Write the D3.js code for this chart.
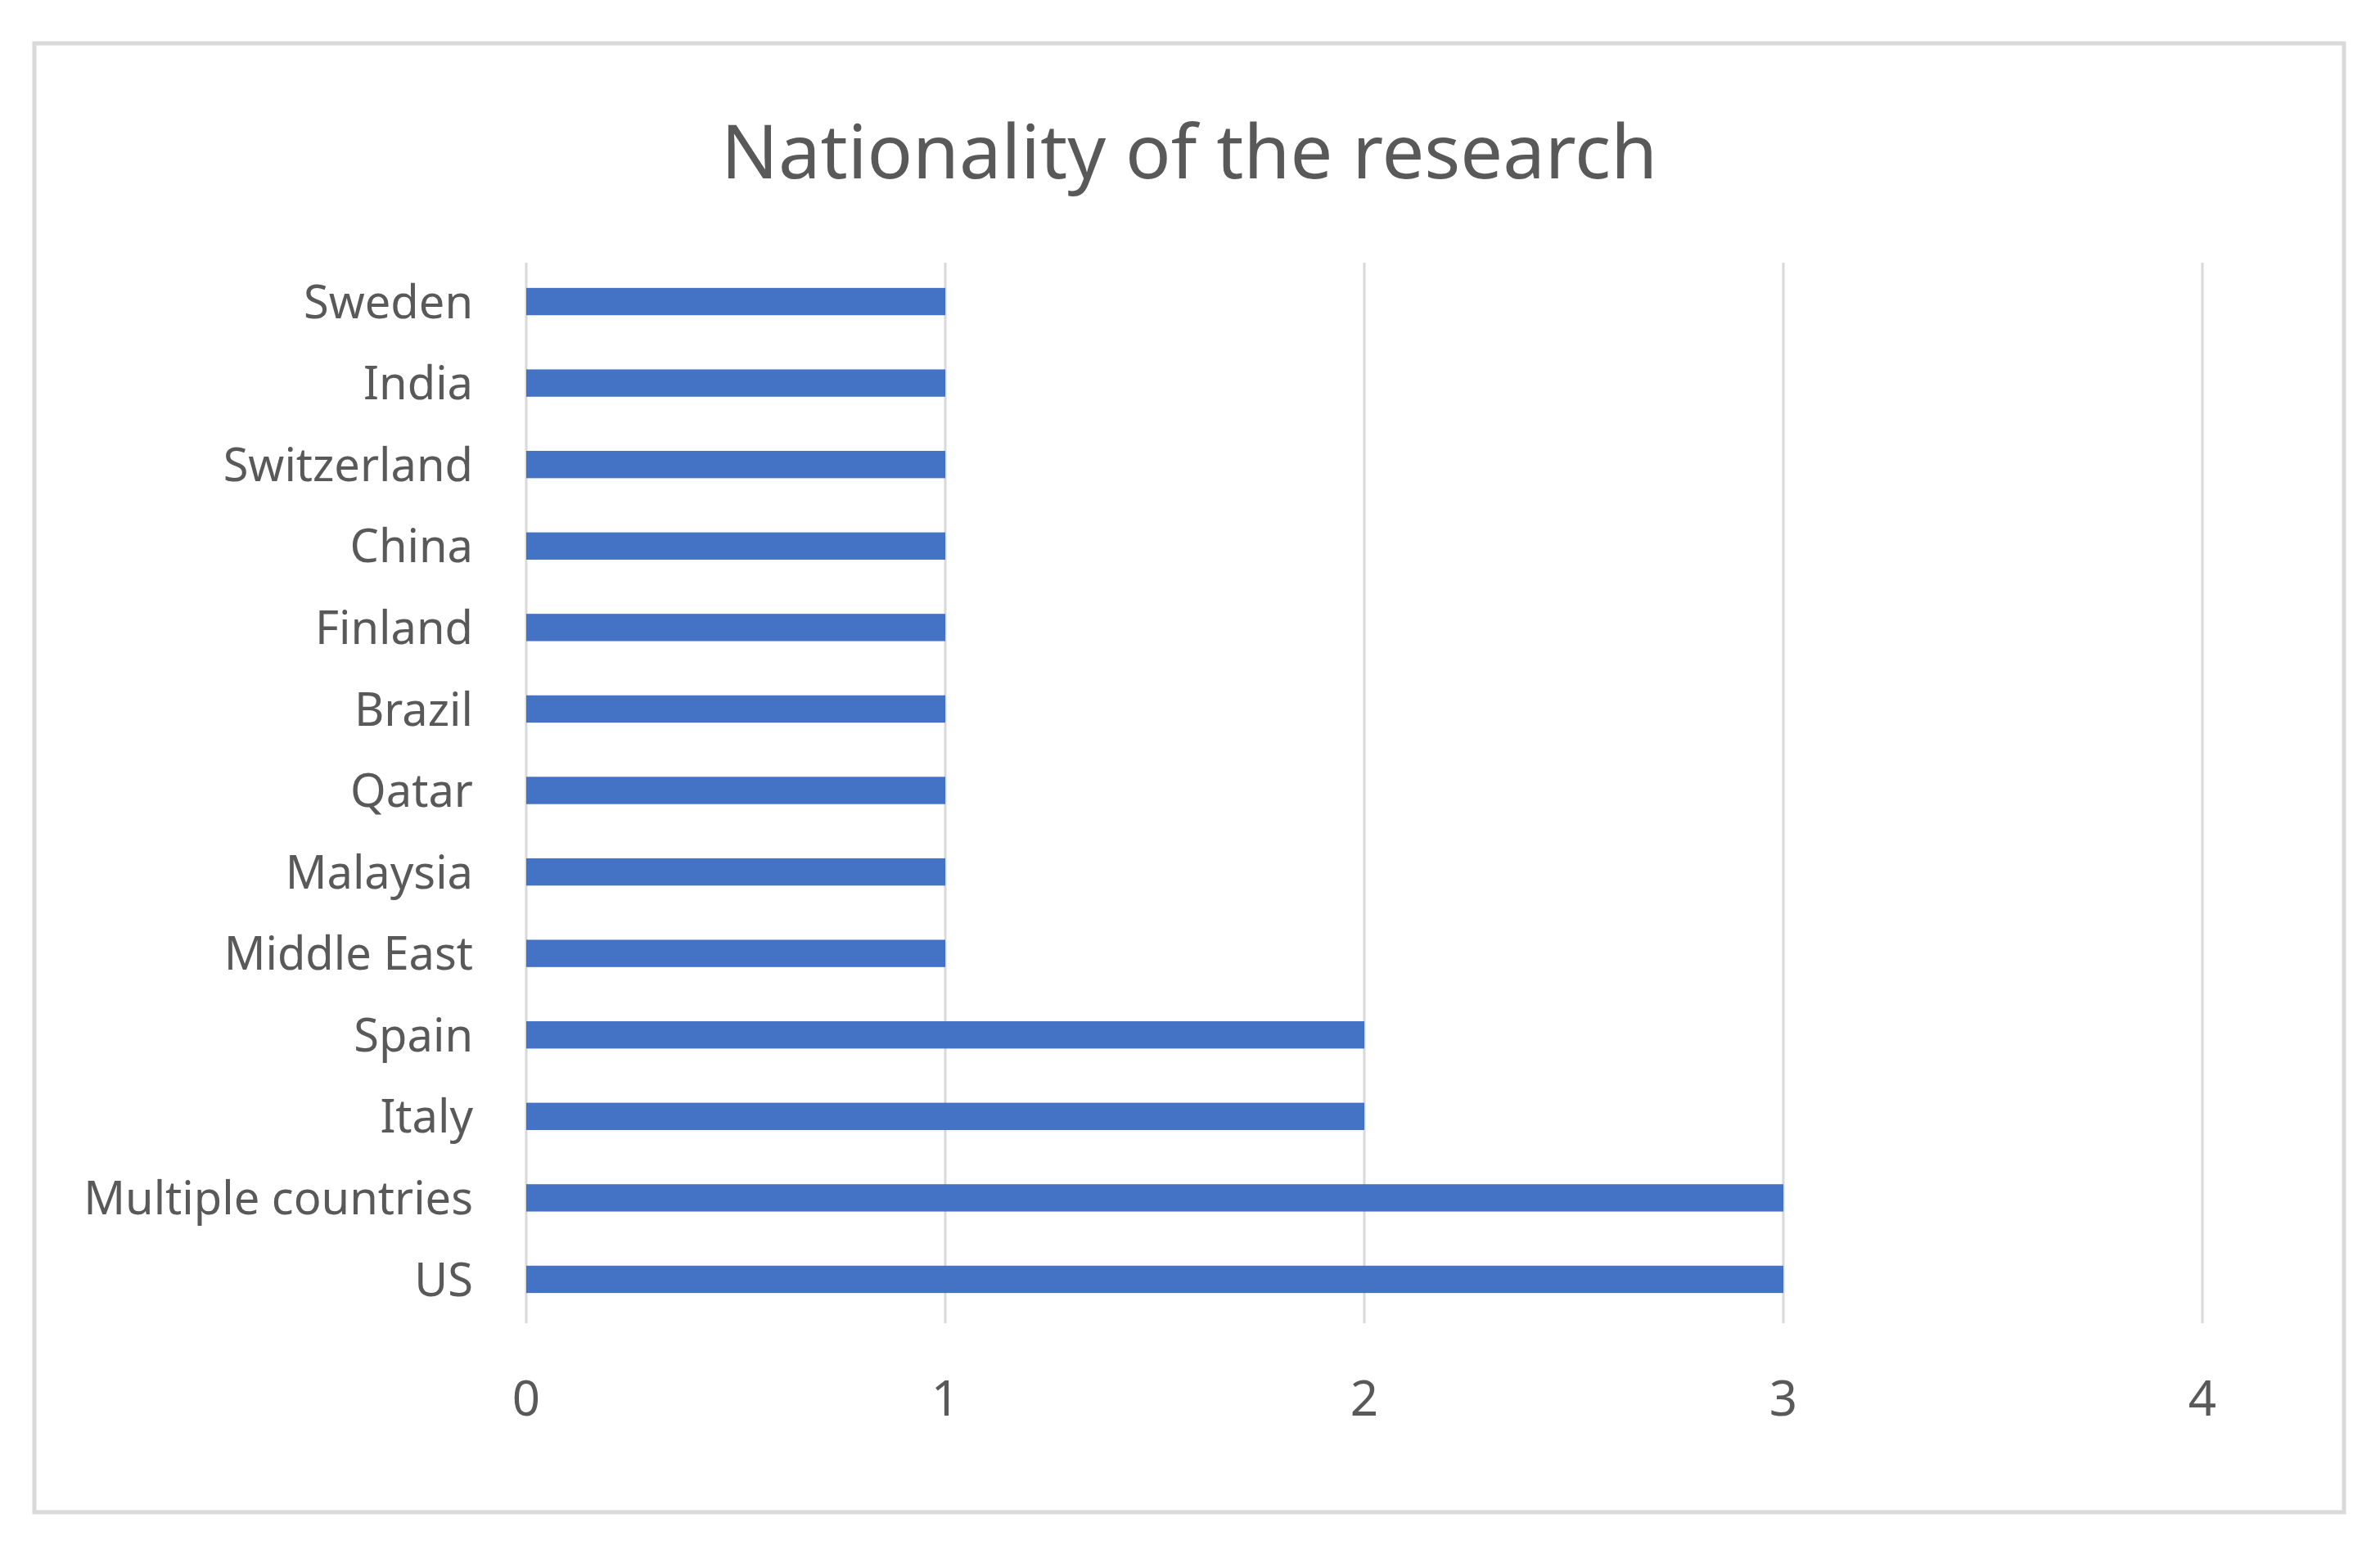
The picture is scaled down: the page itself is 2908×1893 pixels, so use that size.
<!DOCTYPE html>
<html><head><meta charset="utf-8">
<script src="https://cdn.jsdelivr.net/npm/d3@7"></script>
<style>body{margin:0;background:#fff}</style></head>
<body><svg id="c" width="2908" height="1893"></svg>
<script>
const categories = ["Sweden","India","Switzerland","China","Finland","Brazil","Qatar","Malaysia","Middle East","Spain","Italy","Multiple countries","US"];
const values = [1,1,1,1,1,1,1,1,1,2,2,3,3];
const xTicks = [0,1,2,3,4];
const title = "Nationality of the research";

const svg = d3.select("#c");
const font = "'Noto Sans', 'Open Sans', sans-serif";
svg.append("rect").attr("x",42).attr("y",53).attr("width",2822).attr("height",1795)
  .attr("fill","#fff").attr("stroke","#d9d9d9").attr("stroke-width",5);
svg.append("text").attr("x",1453).attr("y",218).attr("text-anchor","middle")
  .attr("font-family",font).attr("font-size",92).attr("fill","#595959").text(title);

const x = d3.scaleLinear().domain([0,4]).range([643,2691]);
const y = d3.scaleBand().domain(categories).range([319,1613]).paddingInner(0.665).paddingOuter(0.33);

const g = svg.append("g");
g.selectAll("line.grid").data(xTicks).join("line")
  .attr("x1",d=>x(d)).attr("x2",d=>x(d)).attr("y1",321).attr("y2",1617)
  .attr("stroke","#d9d9d9").attr("stroke-width",3);
g.selectAll("rect.bar").data(values).join("rect")
  .attr("x",x(0)).attr("y",(d,i)=>y(categories[i]))
  .attr("width",d=>x(d)-x(0)).attr("height",y.bandwidth()).attr("fill","#4472c4");
g.selectAll("text.cat").data(categories).join("text")
  .attr("x",578).attr("y",d=>y(d)+y.bandwidth()/2).attr("dy","0.36em")
  .attr("text-anchor","end").attr("font-family",font).attr("font-size",56).attr("fill","#595959").text(d=>d);
g.selectAll("text.tick").data(xTicks).join("text")
  .attr("x",d=>x(d)).attr("y",1730).attr("text-anchor","middle")
  .attr("font-family",font).attr("font-size",60).attr("fill","#595959").text(d=>d);
</script></body></html>
